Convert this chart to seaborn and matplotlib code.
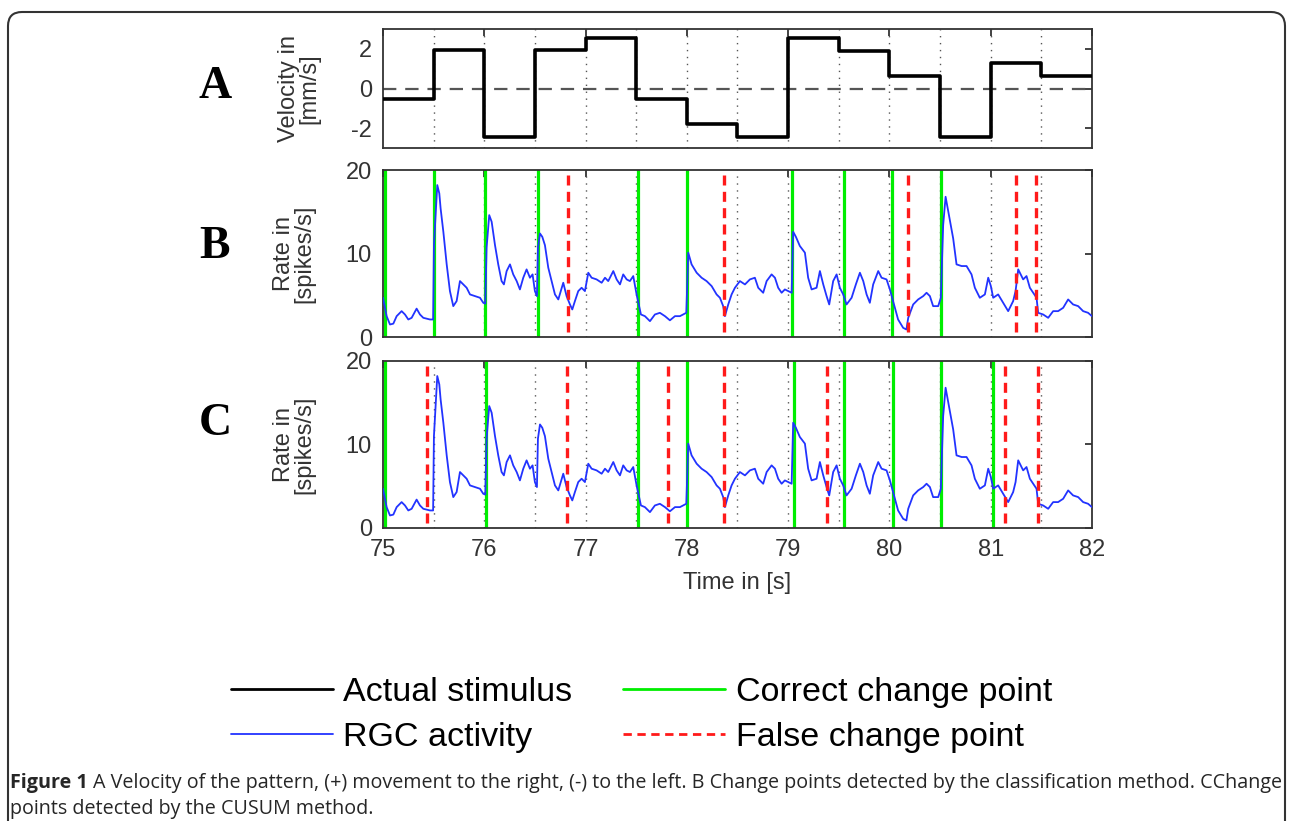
import matplotlib
matplotlib.use("Agg")
import matplotlib.pyplot as plt
import seaborn as sns
from matplotlib.lines import Line2D
from matplotlib.patches import FancyBboxPatch
from matplotlib.transforms import IdentityTransform

# stimulus velocity (steps every 0.5 s)
vel_times = [75.0, 75.5, 76.0, 76.5, 77.0, 77.5, 78.0, 78.5, 79.0, 79.5, 80.0, 80.5, 81.0, 81.5, 82.0]
vel_values = [-0.53, 1.92, -2.45, 1.92, 2.55, -0.53, -1.78, -2.45, 2.55, 1.88, 0.62, -2.45, 1.3, 0.62, 0.62]

# RGC firing rate
rate_time = [
    75.00, 75.036, 75.069, 75.102, 75.135, 75.184, 75.217, 75.25, 75.283, 75.332, 75.365, 75.398, 75.464, 75.495,
    75.503, 75.536, 75.556, 75.569, 75.596, 75.629, 75.661, 75.694, 75.727, 75.76, 75.793, 75.826, 75.859, 75.908, 75.958, 75.99,
    76.01, 76.023, 76.049, 76.073, 76.106, 76.138, 76.171, 76.194, 76.221, 76.254, 76.286, 76.32, 76.352, 76.385, 76.418, 76.451, 76.477, 76.5, 76.52,
    76.53, 76.55, 76.573, 76.599, 76.632, 76.665, 76.698,
    76.731, 76.78, 76.813, 76.846, 76.869, 76.895, 76.928, 76.961, 76.994, 77.027, 77.06, 77.109, 77.159, 77.192, 77.224, 77.274, 77.307, 77.34, 77.372, 77.406, 77.438, 77.471, 77.504,
    77.547, 77.586, 77.636, 77.685, 77.734, 77.784, 77.833, 77.883, 77.932, 77.995,
    78.014, 78.047, 78.097, 78.146, 78.195, 78.245, 78.294, 78.327, 78.359, 78.376, 78.409, 78.442, 78.475,
    78.524, 78.574, 78.623, 78.672, 78.705, 78.754, 78.788, 78.837, 78.87, 78.902, 78.936, 78.968, 79.035,
    79.05, 79.077, 79.116, 79.166, 79.198, 79.232, 79.281, 79.314, 79.347, 79.38, 79.406, 79.445, 79.479, 79.511, 79.544,
    79.577, 79.627, 79.669, 79.709, 79.742, 79.775, 79.807, 79.84, 79.89, 79.923, 79.972, 80.005,
    80.054, 80.086, 80.136, 80.168, 80.186, 80.235, 80.284, 80.334, 80.367, 80.4, 80.432, 80.482, 80.508,
    80.531, 80.555, 80.597, 80.63, 80.663, 80.713, 80.762, 80.811, 80.844, 80.893, 80.943, 80.976, 81.002, 81.025,
    81.074, 81.123, 81.173, 81.222, 81.246,
    81.272, 81.321, 81.354, 81.387, 81.42, 81.453, 81.469, 81.518, 81.568, 81.617, 81.666, 81.716, 81.765, 81.814,
    81.864, 81.913, 81.962, 82.0]
rate_value = [
    4.7, 2.5, 1.5, 1.6, 2.5, 3.1, 2.7, 2.1, 2.3, 3.4, 2.7, 2.3, 2.1, 2.1,
    11.0, 18.2, 17.2, 15.4, 12.6, 8.7, 5.5, 3.7, 4.3, 6.7, 6.3, 5.9, 5.1, 4.9, 4.7, 4.1,
    4.0, 10.7, 14.6, 13.8, 11.0, 8.7, 6.7, 6.3, 7.9, 8.7, 7.5, 6.7, 5.7, 7.1, 8.1, 7.1, 7.5, 5.5, 4.9,
    10.7, 12.4, 12.0, 11.0, 8.3, 6.7, 5.1,
    4.5, 6.5, 4.9, 3.9, 3.3, 4.3, 5.5, 5.9, 5.5, 7.7, 7.1, 6.9, 6.5, 7.1, 6.7, 7.9, 6.9, 6.3, 7.5, 6.9, 6.7, 7.3, 5.1,
    2.7, 2.5, 1.9, 2.7, 2.9, 2.5, 2.0, 2.5, 2.5, 2.9,
    10.1, 8.7, 7.7, 7.1, 6.7, 6.1, 5.1, 4.7, 3.7, 2.5, 3.9, 5.1, 5.9,
    6.7, 6.3, 6.9, 7.1, 5.9, 5.3, 6.7, 7.5, 7.1, 5.9, 5.3, 5.7, 5.3,
    12.6, 12.0, 10.9, 10.1, 7.1, 5.7, 5.9, 7.9, 6.3, 4.9, 3.9, 6.7, 7.5, 5.9, 5.1,
    3.9, 4.7, 6.3, 7.7, 6.7, 5.1, 4.1, 6.3, 7.9, 7.1, 6.9, 5.7,
    3.5, 2.1, 1.1, 0.9, 2.3, 3.9, 4.5, 4.9, 5.3, 4.9, 3.7, 3.7, 4.7,
    13.4, 16.8, 14.0, 11.8, 8.7, 8.5, 8.5, 7.5, 5.9, 4.7, 5.1, 7.1, 6.1, 4.7,
    5.1, 4.1, 3.1, 4.3, 5.5,
    8.1, 6.9, 7.3, 5.9, 5.3, 4.7, 2.9, 2.7, 2.3, 3.1, 3.1, 3.5, 4.5, 3.9,
    3.7, 3.1, 2.9, 2.5]
assert len(rate_time) == len(rate_value)

# detected change points
b_correct = [75.02, 75.50, 76.01, 76.53, 77.52, 78.00, 79.04, 79.55, 80.03, 80.51]
b_false = [76.83, 78.37, 80.18, 81.25, 81.45]
c_correct = [75.02, 76.02, 77.52, 78.00, 79.06, 79.55, 80.04, 80.51, 81.02]
c_false = [75.43, 76.82, 77.81, 78.37, 79.38, 81.14, 81.47]

panel_letters = ["A", "B", "C"]
caption_bold = "Figure 1"
caption_line1 = ("A Velocity of the pattern, (+) movement to the right, (-) to the left. "
                 "B Change points detected by the classification method. CChange")
caption_line2 = "points detected by the CUSUM method."

sns.set_style("white")
plt.rcParams['font.family'] = ['Liberation Sans', 'DejaVu Sans']
plt.rcParams['axes.unicode_minus'] = False
TXT = '#333333'
GREEN = '#00ee00'
BLUE = '#2233ff'
RED = '#ff1a1a'

fig = plt.figure(figsize=(12.93, 8.21), dpi=100)
axA = fig.add_axes([0.2962, 0.8197, 0.5483, 0.1449])
axB = fig.add_axes([0.2962, 0.5895, 0.5483, 0.2034])
axC = fig.add_axes([0.2962, 0.3569, 0.5483, 0.2034])

stim_changes = vel_times[1:-1]

for ax in (axA, axB, axC):
    for t in stim_changes:
        ax.axvline(t, color='#555555', lw=1.0, ls=(0, (1, 4)), zorder=1)
    ax.set_xlim(75, 82)
    ax.set_xticks(range(75, 83))
    ax.tick_params(direction='in', length=5, width=1.2, top=True, right=True,
                   labelsize=17, labelcolor=TXT, pad=8, colors='#222222')
    for s in ax.spines.values():
        s.set_color('#333333')
        s.set_linewidth(1.3)

# panel A
axA.axhline(0, color='#555555', lw=1.6, ls=(0, (6, 4)), zorder=2)
sns.lineplot(x=vel_times, y=vel_values, ax=axA, color='black', lw=2.6,
             drawstyle='steps-post', sort=False, zorder=3)
axA.set_ylim(-3, 3)
axA.set_yticks([-2, 0, 2])
axA.set_xticklabels([])
axA.set_ylabel("Velocity in\n[mm/s]", fontsize=17, color=TXT, labelpad=22, linespacing=0.88)

# panels B and C
for ax, corr, fals in ((axB, b_correct, b_false), (axC, c_correct, c_false)):
    for t in corr:
        ax.axvline(t, color=GREEN, lw=2.3, zorder=2)
    sns.lineplot(x=rate_time, y=rate_value, ax=ax, color=BLUE, lw=1.3,
                 sort=False, zorder=3)
    ax.vlines(fals, 0.6, 19.4, color=RED, lw=2.4, linestyles=(0, (3.0, 1.9)), zorder=4)
    ax.set_ylim(0, 20)
    ax.set_yticks([0, 10, 20])
    ax.set_ylabel("Rate in\n[spikes/s]", fontsize=17, color=TXT, labelpad=22, linespacing=0.88)

axB.set_xticklabels([])
axC.set_xlabel("Time in [s]", fontsize=17, color=TXT, labelpad=8)

# panel letters
for letter, y in zip(panel_letters, (87, 247, 424)):
    fig.text(215 / 1293, 1 - y / 821, letter, family='Liberation Serif', weight='bold',
             fontsize=33, ha='center', va='center', color='black')

# legend
handles = [
    Line2D([], [], color='black', lw=2.0),
    Line2D([], [], color=BLUE, lw=1.3),
    Line2D([], [], color=GREEN, lw=2.0),
    Line2D([], [], color=RED, lw=2.0, ls=(0, (3, 2))),
]
labels = ["Actual stimulus", "RGC activity", "Correct change point", "False change point"]
fig.legend(handles, labels, ncol=2, frameon=False, fontsize=24.5, loc='center',
           bbox_to_anchor=(0.496, 0.129), handlelength=3.0, handletextpad=0.3,
           columnspacing=1.5, labelspacing=0.4, labelcolor='black')

# outer frame
frame = FancyBboxPatch((8, -30), 1277, 821 - 12 + 30, boxstyle="round,pad=0,rounding_size=14",
                       transform=IdentityTransform(), fill=False, ec='#333333', lw=1.5)
fig.add_artist(frame)

# caption
cap_size = 14.2
t1 = fig.text(10 / 1293, 1 - 783 / 821, caption_bold, family='Open Sans', weight='bold',
              fontsize=cap_size, va='center', ha='left')
fig.canvas.draw()
bb = t1.get_window_extent(renderer=fig.canvas.get_renderer())
fig.text((bb.x1 + 5) / 1293, 1 - 783 / 821, caption_line1, family='Open Sans',
         fontsize=cap_size, va='center', ha='left')
fig.text(10 / 1293, 1 - 809 / 821, caption_line2, family='Open Sans',
         fontsize=cap_size, va='center', ha='left')

fig.savefig("out.png", dpi=100)
